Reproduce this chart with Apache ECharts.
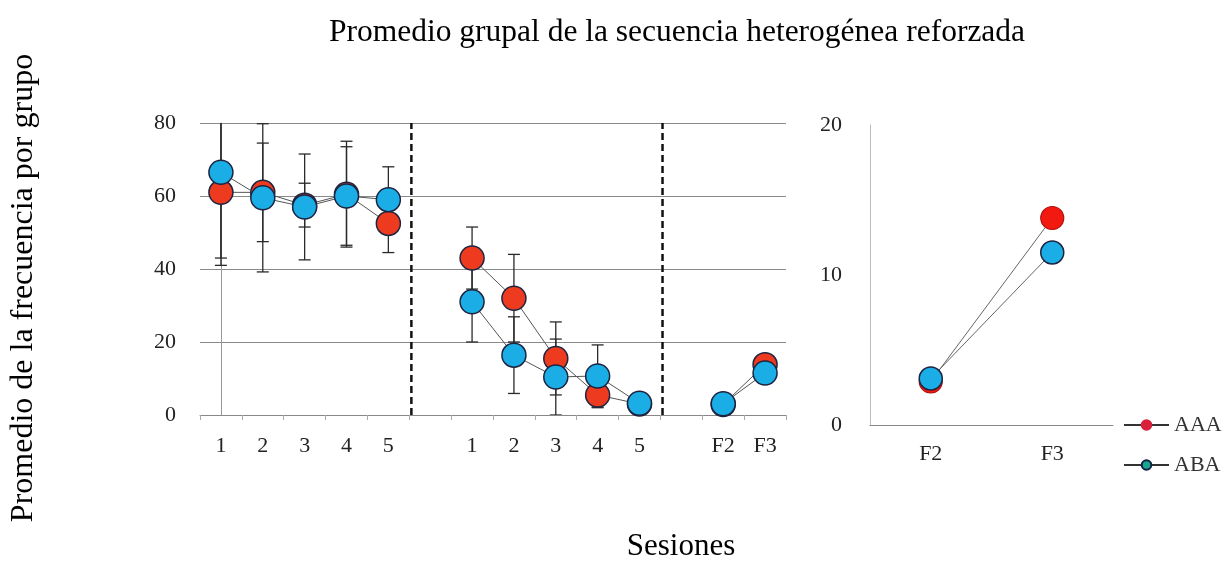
<!DOCTYPE html>
<html>
<head>
<meta charset="utf-8">
<script src="https://cdn.jsdelivr.net/npm/echarts@6/dist/echarts.min.js"></script>
<style>
html,body{margin:0;padding:0;background:#fff;}
#chart{width:1228px;height:565px;}
</style>
</head>
<body>
<div id="chart"></div>
<script>
// ---- data ----
const categories = ['1','2','3','4','5','','1','2','3','4','5','','F2','F3'];
const aaa    = [61, 61, 57.5, 60.5, 52.5, null, 43, 32, 15.5, 5.5, 3, null, 2.9, 13.8];
const aba    = [66.5, 59.5, 57, 60, 59, null, 31, 16.4, 10.4, 10.7, 3.2, null, 3.1, 11.5];
const aaaErr = [20, 13.5, 6, 14.5, 8, null, 8.5, 12, 10, 3.5, 0.5, null, null, null];
const abaErr = [23.5, 20.3, 14.5, 13.5, 9, null, 11, 10.5, 10.4, 8.5, 1, null, null, null];
const leftTicks = [0, 20, 40, 60, 80];
const rightCategories = ['F2', 'F3'];
const rightTicks = [0, 10, 20];
const seriesNames = ['AAA', 'ABA'];
const titleText = 'Promedio grupal de la secuencia heterogénea reforzada';
const yTitleText = 'Promedio de la frecuencia por grupo';
const xTitleText = 'Sesiones';

// ---- derived ----
const aaaRight = rightCategories.map(c => aaa[categories.lastIndexOf(c)]);
const abaRight = rightCategories.map(c => aba[categories.lastIndexOf(c)]);
function errData(vals, errs) {
  const out = [];
  vals.forEach((v, i) => { if (v != null && errs[i] != null) out.push([i, v - errs[i], v + errs[i]]); });
  return out;
}
const dividerPositions = categories.map((c, i) => c === '' ? i - 0.45 : null).filter(v => v != null);

const FONT = "'Liberation Serif', 'Times New Roman', serif";
const RED = '#EE3B1F', BLUE = '#1BAEE6', EDGE = '#1D2440';
const lMin = leftTicks[0], lMax = leftTicks[leftTicks.length - 1];
const rMin = rightTicks[0], rMax = rightTicks[rightTicks.length - 1];

function renderErr(params, api) {
  const x = api.value(0);
  const pLo = api.coord([x, api.value(1)]);
  const pHi = api.coord([x, api.value(2)]);
  const w = 6;
  const st = { stroke: '#2a2a2a', lineWidth: 1.3 };
  return { type: 'group', children: [
    { type: 'line', shape: { x1: pLo[0], y1: pLo[1], x2: pHi[0], y2: pHi[1] }, style: st },
    { type: 'line', shape: { x1: pLo[0] - w, y1: pLo[1], x2: pLo[0] + w, y2: pLo[1] }, style: st },
    { type: 'line', shape: { x1: pHi[0] - w, y1: pHi[1], x2: pHi[0] + w, y2: pHi[1] }, style: st }
  ]};
}

const series = [
  { type: 'custom', name: 'errAAA', xAxisIndex: 0, yAxisIndex: 0, renderItem: renderErr,
    data: errData(aaa, aaaErr), clip: true, z: 1, silent: true, encode: { x: 0, y: [1, 2] } },
  { type: 'custom', name: 'errABA', xAxisIndex: 0, yAxisIndex: 0, renderItem: renderErr,
    data: errData(aba, abaErr), clip: true, z: 1, silent: true, encode: { x: 0, y: [1, 2] } },
  { type: 'line', name: seriesNames[0], xAxisIndex: 0, yAxisIndex: 0, data: aaa, connectNulls: false,
    symbol: 'circle', symbolSize: 24, z: 3,
    lineStyle: { color: '#555', width: 1 },
    itemStyle: { color: RED, borderColor: EDGE, borderWidth: 1.5 } },
  { type: 'line', name: seriesNames[1], xAxisIndex: 0, yAxisIndex: 0, data: aba, connectNulls: false,
    symbol: 'circle', symbolSize: 24, z: 4,
    lineStyle: { color: '#555', width: 1 },
    itemStyle: { color: BLUE, borderColor: EDGE, borderWidth: 1.5 } },
  { type: 'line', name: seriesNames[0], xAxisIndex: 2, yAxisIndex: 1, data: aaaRight,
    symbol: 'circle', symbolSize: 23, z: 3,
    lineStyle: { color: '#666', width: 1 },
    itemStyle: { color: '#F21A10', borderColor: '#B01010', borderWidth: 1.2 } },
  { type: 'line', name: seriesNames[1], xAxisIndex: 2, yAxisIndex: 1, data: abaRight,
    symbol: 'circle', symbolSize: 23, z: 4,
    lineStyle: { color: '#666', width: 1 },
    itemStyle: { color: BLUE, borderColor: EDGE, borderWidth: 1.5 } }
];
dividerPositions.forEach(p => {
  series.push({ type: 'line', name: 'divider', xAxisIndex: 1, yAxisIndex: 0,
    data: [[p, lMin], [p, lMax]], symbol: 'none', silent: true, z: 2,
    lineStyle: { color: '#111', width: 2.5, type: [7, 4] } });
});

const labelStyle = { fontFamily: FONT, fontSize: 22, color: '#222' };

const option = {
  animation: false,
  backgroundColor: '#fff',
  grid: [
    { left: 200, top: 123, width: 586, height: 292 },
    { left: 870, top: 125, width: 243, height: 300 }
  ],
  xAxis: [
    { type: 'category', gridIndex: 0, data: categories, boundaryGap: true,
      axisLine: { lineStyle: { color: '#888', width: 1 } },
      axisTick: { show: true, length: 5, lineStyle: { color: '#aaa' } },
      axisLabel: Object.assign({ margin: 20, interval: 0 }, labelStyle),
      splitLine: { show: false } },
    { type: 'value', gridIndex: 0, min: -0.5, max: categories.length - 0.5, show: false },
    { type: 'category', gridIndex: 1, data: rightCategories, boundaryGap: true,
      axisLine: { lineStyle: { color: '#888', width: 1 } },
      axisTick: { show: false },
      axisLabel: Object.assign({ margin: 18 }, labelStyle) }
  ],
  yAxis: [
    { type: 'value', gridIndex: 0, min: lMin, max: lMax, interval: leftTicks[1] - leftTicks[0],
      axisLine: { show: true, lineStyle: { color: '#999' } },
      axisTick: { show: false },
      axisLabel: Object.assign({ margin: 24 }, labelStyle),
      splitLine: { show: true, lineStyle: { color: '#8a8a8a', width: 1 } } },
    { type: 'value', gridIndex: 1, min: rMin, max: rMax, interval: rightTicks[1] - rightTicks[0],
      axisLine: { show: true, lineStyle: { color: '#bbb' } },
      axisTick: { show: false },
      axisLabel: Object.assign({ margin: 28 }, labelStyle),
      splitLine: { show: false } }
  ],
  legend: {
    data: [
      { name: seriesNames[0], itemStyle: { color: '#D8203A', borderColor: '#D8203A' }, lineStyle: { color: '#333' } },
      { name: seriesNames[1], itemStyle: { color: '#1BA58F', borderColor: '#124' }, lineStyle: { color: '#333' } }
    ],
    orient: 'vertical', left: 1118, top: 409, itemWidth: 45, itemHeight: 12, itemGap: 18,
    textStyle: { fontFamily: FONT, fontSize: 22, color: '#333' }
  },
  graphic: [
    { type: 'text', x: 677, y: 33, style: { text: titleText, font: '31.5px ' + FONT, fill: '#000',
      textAlign: 'center', textVerticalAlign: 'middle' } },
    { type: 'text', x: 24, y: 288, rotation: Math.PI / 2, style: { text: yTitleText, font: '32px ' + FONT,
      fill: '#000', textAlign: 'center', textVerticalAlign: 'middle' } },
    { type: 'text', x: 681, y: 547, style: { text: xTitleText, font: '31px ' + FONT, fill: '#000',
      textAlign: 'center', textVerticalAlign: 'middle' } }
  ],
  series: series
};
const chart = echarts.init(document.getElementById('chart'));
chart.setOption(option);
</script>
</body>
</html>
